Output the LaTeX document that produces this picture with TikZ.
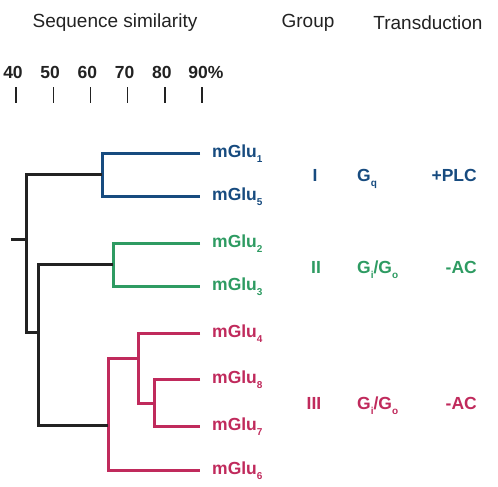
\documentclass[tikz,border=0pt]{standalone}
\usepackage{fontspec}
\setmainfont{Liberation Sans}
\usepackage{tikz}

\definecolor{grpone}{HTML}{174B7F}
\definecolor{grptwo}{HTML}{2E9B62}
\definecolor{grpthree}{HTML}{C02A5C}
\definecolor{treeblack}{HTML}{222222}

\newcommand{\lowsub}[1]{\raisebox{-0.32em}{\fontsize{10}{10}\selectfont #1}}

\tikzset{
  headtext/.style={font=\fontsize{19}{19}\selectfont, text=treeblack},
  scaletext/.style={font=\fontsize{17.5}{17.5}\selectfont\bfseries, text=treeblack},
  leaftext/.style={font=\fontsize{17.5}{17.5}\selectfont\bfseries, anchor=base west, inner sep=0pt},
  grouptext/.style={font=\fontsize{17.5}{17.5}\selectfont\bfseries, inner sep=0pt},
  branch/.style={line width=3pt},
}

\begin{document}
\begin{tikzpicture}[x=1pt,y=-1pt]
		\useasboundingbox (0,0) rectangle (498,487);
		% headings
		\node[headtext] (seqsim) at (115,23) {Sequence similarity};
		\node[headtext] (grouphead) at (308,23) {Group};
		\node[headtext] (transhead) at (428,23) {Transduction};
		% similarity scale
		\foreach \p [count=\i from 0] in {40,50,60,70,80} {
			\node[scaletext] (s\p) at (13+37.2*\i,72) {\p};
			\draw[treeblack, line width=1.4pt] (16+37.2*\i,87) -- (16+37.2*\i,103);
		}
		\node[scaletext] (s90) at (206,72) {90\%};
		\draw[treeblack, line width=1.4pt] (202,87) -- (202,103);
		% leaves
		\coordinate (l1) at (200,153);
		\coordinate (l5) at (200,196);
		\coordinate (l2) at (200,243);
		\coordinate (l3) at (200,286);
		\coordinate (l4) at (200,333);
		\coordinate (l8) at (200,379);
		\coordinate (l7) at (200,426);
		\coordinate (l6) at (200,470);
		% inner branch points
		\coordinate (nI) at (102,174);
		\coordinate (nII) at (113,264);
		\coordinate (n87) at (154,403);
		\coordinate (n4) at (138,358);
		\coordinate (nIII) at (108,425);
		\coordinate (nA) at (38,332);
		\coordinate (root) at (26,239);
		\coordinate (stub) at (11,239);
		% tree
		\draw[branch, grpone] (l1) -| (nI) |- (l5);
		\draw[branch, grptwo] (l2) -| (nII) |- (l3);
		\draw[branch, grpthree] (l8) -| (n87) |- (l7);
		\draw[branch, grpthree] (l4) -| (n4) |- (n87);
		\draw[branch, grpthree] (n4) -| (nIII) |- (l6);
		\draw[branch, treeblack] (nII) -| (nA) |- (nIII);
		\draw[branch, treeblack] (nI) -| (root) |- (nA);
		\draw[branch, treeblack] (root) -- (stub);
		% leaf labels
		\node[leaftext, grpone] (m1) at (212,157) {mGlu\lowsub{1}};
		\node[leaftext, grpone] (m5) at (212,200) {mGlu\lowsub{5}};
		\node[leaftext, grptwo] (m2) at (212,247) {mGlu\lowsub{2}};
		\node[leaftext, grptwo] (m3) at (212,290) {mGlu\lowsub{3}};
		\node[leaftext, grpthree] (m4) at (212,337) {mGlu\lowsub{4}};
		\node[leaftext, grpthree] (m8) at (212,383) {mGlu\lowsub{8}};
		\node[leaftext, grpthree] (m7) at (212,430) {mGlu\lowsub{7}};
		\node[leaftext, grpthree] (m6) at (212,474) {mGlu\lowsub{6}};
		% groups
		\node[grouptext, grpone, anchor=base] (gI) at (315,181) {I};
		\node[grouptext, grpone, anchor=base west] (gqI) at (357,181) {G\lowsub{q}};
		\node[grouptext, grpone, anchor=base east] (plc) at (477,181) {+PLC};
		\node[grouptext, grptwo, anchor=base] (gII) at (316,273) {II};
		\node[grouptext, grptwo, anchor=base west] (gqII) at (357,273) {G\lowsub{i}/G\lowsub{o}};
		\node[grouptext, grptwo, anchor=base east] (acII) at (477,273) {-AC};
		\node[grouptext, grpthree, anchor=base] (gIII) at (314,409) {III};
		\node[grouptext, grpthree, anchor=base west] (gqIII) at (357,409) {G\lowsub{i}/G\lowsub{o}};
		\node[grouptext, grpthree, anchor=base east] (acIII) at (477,409) {-AC};
\end{tikzpicture}
\end{document}
